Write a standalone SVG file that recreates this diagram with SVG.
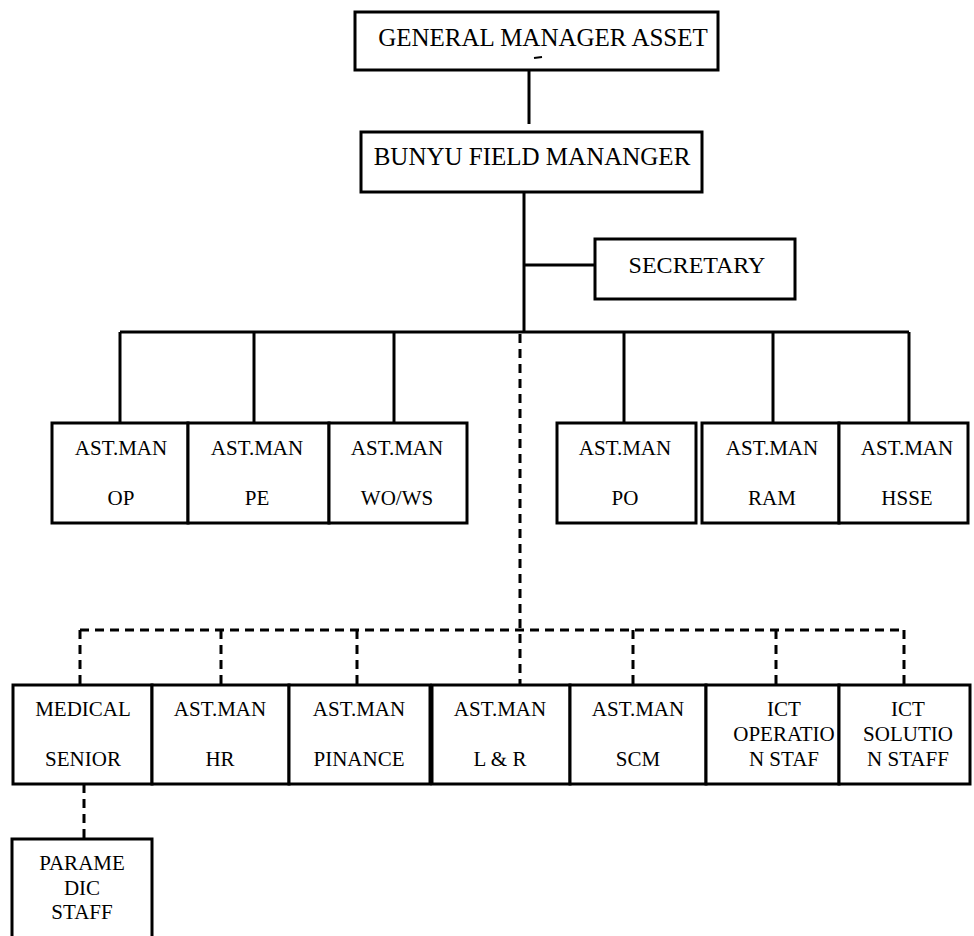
<svg xmlns="http://www.w3.org/2000/svg" width="974" height="936" viewBox="0 0 974 936" font-family="'Liberation Serif', 'Times New Roman', 'DejaVu Serif', serif">
<style>
.box{fill:#fff;stroke:#000;stroke-width:3}
.ln{fill:none;stroke:#000;stroke-width:3}
.dl{fill:none;stroke:#000;stroke-width:3;stroke-dasharray:9 6}
text{font-family:'Liberation Serif','Times New Roman','DejaVu Serif',serif;fill:#000;text-anchor:middle}
.t1{font-size:25px}
.t2{font-size:24px}
.t3{font-size:21px}
</style>
<rect width="974" height="936" fill="#fff"/>
<g id="connectors">
<line class="ln" x1="529" y1="70" x2="529" y2="124"/>
<line class="ln" x1="524" y1="192" x2="524" y2="332"/>
<line class="ln" x1="524" y1="265" x2="595" y2="265"/>
<line class="ln" x1="120" y1="332" x2="909" y2="332"/>
<line class="ln" x1="120" y1="332" x2="120" y2="423"/>
<line class="ln" x1="254" y1="332" x2="254" y2="423"/>
<line class="ln" x1="394" y1="332" x2="394" y2="423"/>
<line class="ln" x1="624" y1="332" x2="624" y2="423"/>
<line class="ln" x1="773" y1="332" x2="773" y2="423"/>
<line class="ln" x1="909" y1="332" x2="909" y2="423"/>
<line class="dl" x1="520" y1="334" x2="520" y2="685"/>
<line class="dl" x1="80" y1="630" x2="904" y2="630"/>
<line class="dl" x1="80" y1="630" x2="80" y2="685"/>
<line class="dl" x1="221" y1="630" x2="221" y2="685"/>
<line class="dl" x1="357" y1="630" x2="357" y2="685"/>
<line class="dl" x1="633" y1="630" x2="633" y2="685"/>
<line class="dl" x1="776" y1="630" x2="776" y2="685"/>
<line class="dl" x1="904" y1="630" x2="904" y2="685"/>
<line class="dl" x1="84" y1="784" x2="84" y2="839"/>
</g>
<g id="gm">
<rect class="box" x="355" y="12" width="363" height="58"/>
<text class="t1" x="543" y="46">GENERAL MANAGER ASSET</text>
<line x1="534" y1="58" x2="542" y2="57" stroke="#000" stroke-width="2"/>
</g>
<g id="bfm">
<rect class="box" x="361" y="132" width="341" height="60"/>
<text class="t1" x="532" y="165">BUNYU FIELD MANANGER</text>
</g>
<g id="secretary">
<rect class="box" x="595" y="239" width="200" height="60"/>
<text class="t2" x="697" y="273">SECRETARY</text>
</g>
<g id="op">
<rect class="box" x="52" y="423" width="136" height="100"/>
<text class="t3" x="121" y="455">AST.MAN</text>
<text class="t3" x="121" y="505">OP</text>
</g>
<g id="pe">
<rect class="box" x="188" y="423" width="141" height="100"/>
<text class="t3" x="257" y="455">AST.MAN</text>
<text class="t3" x="257" y="505">PE</text>
</g>
<g id="wows">
<rect class="box" x="329" y="423" width="138" height="100"/>
<text class="t3" x="397" y="455">AST.MAN</text>
<text class="t3" x="397" y="505">WO/WS</text>
</g>
<g id="po">
<rect class="box" x="557" y="423" width="139" height="100"/>
<text class="t3" x="625" y="455">AST.MAN</text>
<text class="t3" x="625" y="505">PO</text>
</g>
<g id="ram">
<rect class="box" x="702" y="423" width="137" height="100"/>
<text class="t3" x="772" y="455">AST.MAN</text>
<text class="t3" x="772" y="505">RAM</text>
</g>
<g id="hsse">
<rect class="box" x="839" y="423" width="129" height="100"/>
<text class="t3" x="907" y="455">AST.MAN</text>
<text class="t3" x="907" y="505">HSSE</text>
</g>
<g id="medical">
<rect class="box" x="13" y="685" width="139" height="99"/>
<text class="t3" x="83" y="716">MEDICAL</text>
<text class="t3" x="83" y="766">SENIOR</text>
</g>
<g id="hr">
<rect class="box" x="152" y="685" width="137" height="99"/>
<text class="t3" x="220" y="716">AST.MAN</text>
<text class="t3" x="220" y="766">HR</text>
</g>
<g id="finance">
<rect class="box" x="289" y="685" width="141" height="99"/>
<text class="t3" x="359" y="716">AST.MAN</text>
<text class="t3" x="359" y="766">PINANCE</text>
</g>
<g id="lr">
<rect class="box" x="432" y="685" width="138" height="99"/>
<text class="t3" x="500" y="716">AST.MAN</text>
<text class="t3" x="500" y="766">L &amp; R</text>
</g>
<g id="scm">
<rect class="box" x="570" y="685" width="136" height="99"/>
<text class="t3" x="638" y="716">AST.MAN</text>
<text class="t3" x="638" y="766">SCM</text>
</g>
<g id="ictop">
<rect class="box" x="706" y="685" width="133" height="99"/>
<text class="t3" x="784" y="716">ICT</text>
<text class="t3" x="784" y="741">OPERATIO</text>
<text class="t3" x="784" y="766">N STAF</text>
</g>
<g id="ictsol">
<rect class="box" x="839" y="685" width="131" height="99"/>
<text class="t3" x="908" y="716">ICT</text>
<text class="t3" x="908" y="741">SOLUTIO</text>
<text class="t3" x="908" y="766">N STAFF</text>
</g>
<g id="paramedic">
<rect class="box" x="12" y="839" width="140" height="110"/>
<text class="t3" x="82" y="870">PARAME</text>
<text class="t3" x="82" y="895">DIC</text>
<text class="t3" x="82" y="919">STAFF</text>
</g>
</svg>
